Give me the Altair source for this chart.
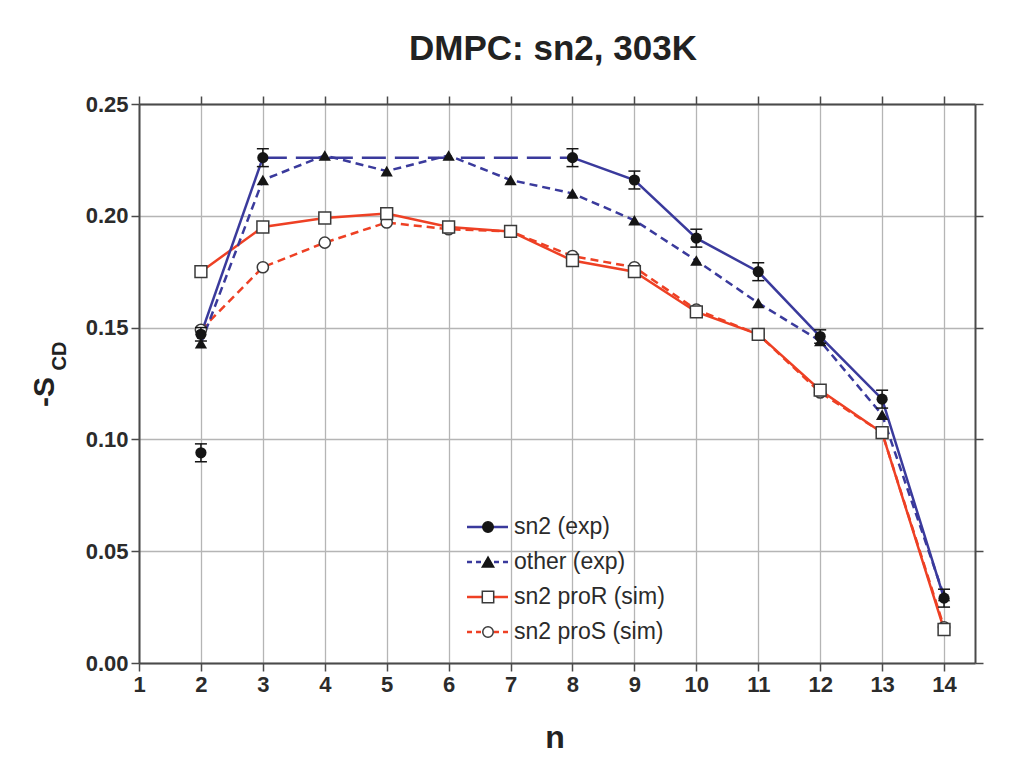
import altair as alt
import pandas as pd

# ---------------- data ----------------
n_all = [2, 3, 4, 5, 6, 7, 8, 9, 10, 11, 12, 13, 14]

sn2_exp_n = [2, 3, 8, 9, 10, 11, 12, 13, 14]
sn2_exp_val = [0.147, 0.226, 0.226, 0.216, 0.190, 0.175, 0.146, 0.118, 0.029]
sn2_exp_err = [0.003, 0.004, 0.004, 0.004, 0.004, 0.004, 0.003, 0.004, 0.004]
sn2_exp_seg = [0, 0, 1, 1, 1, 1, 1, 1, 1]

sn2_split_n = [2]
sn2_split_val = [0.094]
sn2_split_err = [0.004]

sn2_plateau_n = [3, 8]
sn2_plateau_val = [0.226, 0.226]

other_exp_val = [0.143, 0.216, 0.227, 0.220, 0.227, 0.216, 0.210, 0.198, 0.180, 0.161, 0.144, 0.111, 0.030]
proR_val = [0.175, 0.195, 0.199, 0.201, 0.195, 0.193, 0.180, 0.175, 0.157, 0.147, 0.122, 0.103, 0.015]
proS_val = [0.149, 0.177, 0.188, 0.197, 0.194, 0.193, 0.182, 0.177, 0.158, 0.147, 0.121, 0.103, 0.016]

legend_labels = ["sn2 (exp)", "other (exp)", "sn2 proR (sim)", "sn2 proS (sim)"]
x_ticks = list(range(1, 15))
y_ticks = [0.0, 0.05, 0.10, 0.15, 0.20, 0.25]

# ---------------- tables ----------------
sn2_df = pd.DataFrame({"n": sn2_exp_n, "v": sn2_exp_val, "err": sn2_exp_err, "seg": sn2_exp_seg})
split_df = pd.DataFrame({"n": sn2_split_n, "v": sn2_split_val, "err": sn2_split_err})
err_df = pd.concat([sn2_df[["n", "v", "err"]], split_df], ignore_index=True)
err_df["lo"] = err_df["v"] - err_df["err"]
err_df["hi"] = err_df["v"] + err_df["err"]
plateau_df = pd.DataFrame({"n": sn2_plateau_n, "v": sn2_plateau_val})
other_df = pd.DataFrame({"n": n_all, "v": other_exp_val})
proR_df = pd.DataFrame({"n": n_all, "v": proR_val})
proS_df = pd.DataFrame({"n": n_all, "v": proS_val})

BLUE = "#3a3a9c"
RED = "#ee4024"
BLACK = "#151515"
EDGE = "#3a3a3a"
FONT = "Liberation Sans"

xscale = alt.Scale(domain=[1, 14.5], nice=False, zero=False)
yscale = alt.Scale(domain=[0, 0.25], nice=False, zero=False)

xaxis = alt.Axis(values=x_ticks, format="d", grid=True, title=None, orient="bottom", labelFlush=False)
yaxis = alt.Axis(values=y_ticks, format=".2f", grid=True, title=None, orient="left", labelFlush=False)


def X(field="n"):
    return alt.X(f"{field}:Q", scale=xscale, axis=xaxis)


def Y(field="v"):
    return alt.Y(f"{field}:Q", scale=yscale, axis=yaxis)


# ---------------- lines ----------------
proS_line = alt.Chart(proS_df).mark_line(color=RED, strokeWidth=2.5, strokeDash=[8, 5]).encode(x=X(), y=Y())
proR_line = alt.Chart(proR_df).mark_line(color=RED, strokeWidth=2.5).encode(x=X(), y=Y())
other_line = alt.Chart(other_df).mark_line(color=BLUE, strokeWidth=2.5, strokeDash=[8, 5]).encode(x=X(), y=Y())
plateau_line = alt.Chart(plateau_df).mark_line(color=BLUE, strokeWidth=2.5, strokeDash=[24, 9]).encode(x=X(), y=Y())
sn2_line = alt.Chart(sn2_df).mark_line(color=BLUE, strokeWidth=2.5).encode(x=X(), y=Y(), detail="seg:N")

# ---------------- markers ----------------
proS_pts = alt.Chart(proS_df).mark_point(shape="circle", filled=True, fill="white", stroke=EDGE,
                                         strokeWidth=1.5, size=125, opacity=1).encode(x=X(), y=Y())
proR_pts = alt.Chart(proR_df).mark_point(shape="square", filled=True, fill="white", stroke=EDGE,
                                         strokeWidth=1.5, size=140, opacity=1).encode(x=X(), y=Y())
other_pts = alt.Chart(other_df).mark_point(shape="triangle-up", filled=True, color=BLACK,
                                           size=150, opacity=1).encode(x=X(), y=Y())
err_rule = alt.Chart(err_df).mark_rule(color=BLACK, strokeWidth=1.5).encode(x=X(), y=Y("lo"), y2="hi:Q")
err_lo = alt.Chart(err_df).mark_tick(orient="horizontal", size=12, thickness=1.5, color=BLACK,
                                     opacity=1).encode(x=X(), y=Y("lo"))
err_hi = alt.Chart(err_df).mark_tick(orient="horizontal", size=12, thickness=1.5, color=BLACK,
                                     opacity=1).encode(x=X(), y=Y("hi"))
sn2_pts = alt.Chart(err_df).mark_point(shape="circle", filled=True, color=BLACK,
                                       size=125, opacity=1).encode(x=X(), y=Y())

# ---------------- manual legend (pixel layout) ----------------
one = alt.Data(values=[{"k": 0}])
leg_x0, leg_x1, leg_mx, leg_tx = 328, 369, 349, 375
leg_y0, leg_dy = 423, 35
leg_styles = [
    dict(color=BLUE, dash=None, shape="circle", fill=BLACK, stroke=BLACK, size=110),
    dict(color=BLUE, dash=[5, 4], shape="triangle-up", fill=BLACK, stroke=BLACK, size=130),
    dict(color=RED, dash=None, shape="square", fill="white", stroke=EDGE, size=130),
    dict(color=RED, dash=[5, 4], shape="circle", fill="white", stroke=EDGE, size=110),
]
legend_layers = []
for i, (lab, st) in enumerate(zip(legend_labels, leg_styles)):
    yy = leg_y0 + i * leg_dy
    rule_kw = dict(color=st["color"], strokeWidth=2.5)
    if st["dash"]:
        rule_kw["strokeDash"] = st["dash"]
    legend_layers.append(alt.Chart(one).mark_rule(**rule_kw).encode(
        x=alt.value(leg_x0), x2=alt.value(leg_x1), y=alt.value(yy)))
    legend_layers.append(alt.Chart(one).mark_point(
        shape=st["shape"], filled=True, fill=st["fill"], stroke=st["stroke"], strokeWidth=1.5,
        size=st["size"], opacity=1).encode(x=alt.value(leg_mx), y=alt.value(yy)))
    legend_layers.append(alt.Chart(one).mark_text(
        align="left", baseline="middle", font=FONT, fontSize=23, color="#2b2b2b").encode(
        x=alt.value(leg_tx), y=alt.value(yy), text=alt.value(lab)))

# ---------------- axis titles as text ----------------
ytitle_S = alt.Chart(one).mark_text(angle=270, align="center", baseline="alphabetic", font=FONT,
                                    fontSize=30, fontWeight="bold", color="#222").encode(
    x=alt.value(-85), y=alt.value(288), text=alt.value("-S"))
ytitle_CD = alt.Chart(one).mark_text(angle=270, align="center", baseline="alphabetic", font=FONT,
                                     fontSize=20, fontWeight="bold", color="#222").encode(
    x=alt.value(-73), y=alt.value(252), text=alt.value("CD"))
xtitle = alt.Chart(one).mark_text(align="center", baseline="alphabetic", font=FONT,
                                  fontSize=32, fontWeight="bold", color="#222").encode(
    x=alt.value(416), y=alt.value(644), text=alt.value("n"))
main_title = alt.Chart(one).mark_text(align="center", baseline="alphabetic", font=FONT,
                                      fontSize=35, fontWeight="bold", color="#222").encode(
    x=alt.value(414), y=alt.value(-44), text=alt.value("DMPC: sn2, 303K"))

main = alt.layer(
    proS_line, proR_line, other_line, plateau_line, sn2_line,
    proS_pts, proR_pts, other_pts, err_rule, err_lo, err_hi, sn2_pts,
    *legend_layers, ytitle_S, ytitle_CD, xtitle, main_title,
)

# frame layer: top and right axes with ticks only
frame = alt.Chart(other_df).mark_point(opacity=0).encode(
    x=alt.X("n:Q", scale=xscale,
            axis=alt.Axis(orient="top", values=x_ticks, labels=False, grid=False, title=None)),
    y=alt.Y("v:Q", scale=yscale,
            axis=alt.Axis(orient="right", values=y_ticks, labels=False, grid=False, title=None)),
)

chart = alt.layer(main, frame).resolve_axis(x="independent", y="independent").properties(
    width=836,
    height=559,
    autosize=alt.AutoSizeParams(type="none"),
    padding={"left": 139, "top": 104, "right": 57, "bottom": 94},
    background="white",
).configure_view(stroke=None).configure_axis(
    labelFont=FONT, labelFontWeight="bold", labelFontSize=22, labelColor="#2b2b2b",
    domainColor="#4a4a4a", domainWidth=2, tickColor="#4a4a4a", tickWidth=1.5, tickSize=8,
    gridColor="#b5b5b5", gridWidth=1.3, labelPadding=3,
)

chart.save("out.html", embed_options={"renderer": "svg", "actions": False})
